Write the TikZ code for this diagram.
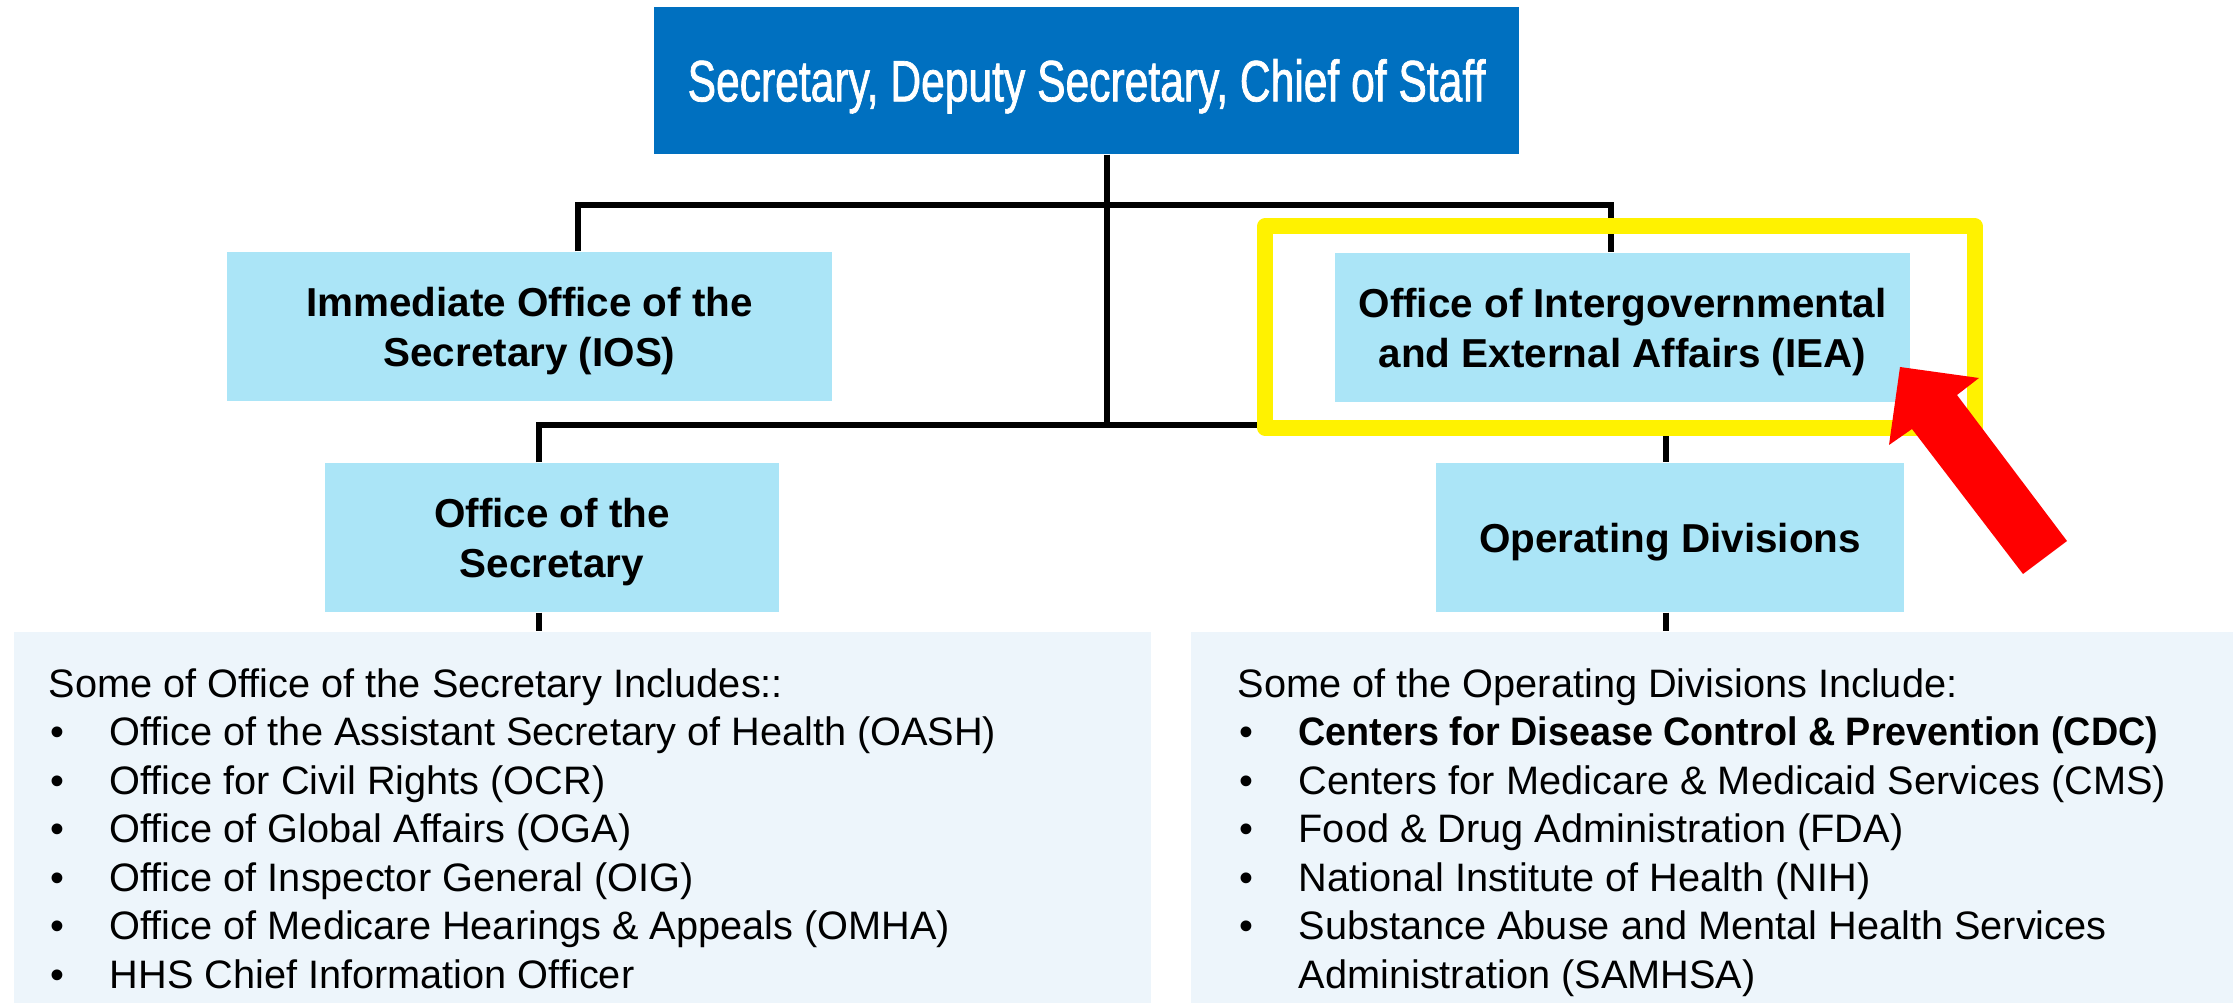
\documentclass[tikz,border=0pt]{standalone}
\usepackage{fontspec}
\setmainfont{Liberation Sans}
\newfontfamily\titlefont[FakeStretch=0.73,FakeBold=1.2]{Liberation Sans}
\newfontfamily\narrowbold[FakeStretch=0.95]{Liberation Sans Bold}
\definecolor{hhsblue}{HTML}{0070C0}
\definecolor{unitfill}{HTML}{ABE5F7}
\definecolor{listfill}{HTML}{EDF5FB}
\newcommand{\bul}{\makebox[6.1mm][l]{\hspace{0.2mm}\textbullet}}

\begin{document}
\begin{tikzpicture}[x=0.1mm,y=-0.1mm,
  unit/.style={fill=unitfill, minimum height=14.9mm, align=center, inner sep=0pt,
    text depth=0pt, font=\fontsize{11.5}{14.2}\selectfont\bfseries},
  listbox/.style={fill=listfill, minimum height=37.1mm, inner sep=0pt},
  listtext/.style={anchor=north west, align=left, inner sep=0pt,
    font=\fontsize{11.3}{13.8}\selectfont},
  wire/.style={line width=0.6mm},
  highlight/.style={draw=yellow, line width=1.6mm, line join=round},
  pointer/.style={fill=red}]
 \useasboundingbox (0,0) rectangle (2237,1007);

 \node[fill=hhsblue, minimum width=86.5mm, minimum height=14.7mm, inner sep=0pt,
   text=white, text height=4.17mm, text depth=0pt,
   font=\titlefont\fontsize{16.6}{20}\selectfont] (top) at (1086.5,80.5)
   {Secretary, Deputy Secretary, Chief of Staff};

 \node[unit, minimum width=60.5mm] (ios) at (529.5,326.5) {Immediate Office of the\\Secretary (IOS)};
 \node[unit, minimum width=57.5mm] (iea) at (1622.5,327.5) {Office of Intergovernmental\\and External Affairs (IEA)};
 \node[unit, minimum width=45.4mm] (os) at (552,537.5) {Office of the\\Secretary};
 \node[unit, minimum width=46.8mm] (od) at (1670,537.5) {Operating Divisions};

 \node[listbox, minimum width=113.7mm] (oslist) at (582.5,817.5) {};
 \node[listbox, minimum width=104.2mm] (odlist) at (1712,817.5) {};

 \node[listtext] (ostext) at (48,668) {Some of Office of the Secretary Includes::\\
   \bul Office of the Assistant Secretary of Health (OASH)\\
   \bul Office for Civil Rights (OCR)\\
   \bul Office of Global Affairs (OGA)\\
   \bul Office of Inspector General (OIG)\\
   \bul Office of Medicare Hearings \& Appeals (OMHA)\\
   \bul HHS Chief Information Officer};
 \node[listtext] (odtext) at (1237,668) {Some of the Operating Divisions Include:\\
   \bul {\narrowbold Centers for Disease Control \& Prevention (CDC)}\\
   \bul Centers for Medicare \& Medicaid Services (CMS)\\
   \bul Food \& Drug Administration (FDA)\\
   \bul National Institute of Health (NIH)\\
   \bul Substance Abuse and Mental Health Services\\
   \hspace*{6.1mm}Administration (SAMHSA)};

 \coordinate (trunk) at (1107,205);
 \coordinate (lowbus) at (1107,425);
 \coordinate (iosdrop) at (578,205);
 \coordinate (ieadrop) at (1611,205);
 \coordinate (osdrop) at (539,425);
 \coordinate (oddrop) at (1666,425);

 \draw[wire] (trunk |- top.south) -- (lowbus);
 \draw[wire] (iosdrop |- ios.north) -- (iosdrop) -- (ieadrop) -- (ieadrop |- iea.north);
 \draw[wire] (osdrop |- os.north) -- (osdrop) -- (oddrop) -- (oddrop |- od.north);
 \draw[wire] (osdrop |- os.south) -- (osdrop |- oslist.north);
 \draw[wire] (oddrop |- od.south) -- (oddrop |- odlist.north);

 \draw[highlight] ([shift={(-69,-26)}]iea.north west) rectangle ([shift={(64,25)}]iea.south east);

 \coordinate (tip) at (1900,367);
 \fill[pointer] (tip) -- ++(79,11) -- ++(-22,17) -- ++(110,146) -- ++(-44,33)
   -- ++(-111,-145) -- ++(-23,16) -- cycle;
\end{tikzpicture}
\end{document}
